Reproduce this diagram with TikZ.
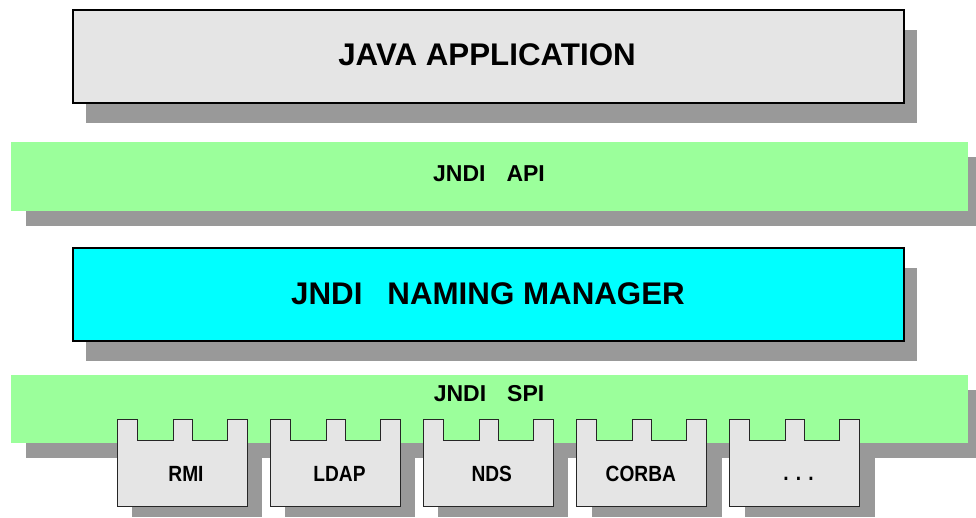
\documentclass[tikz,border=0pt]{standalone}
\usepackage{fontspec}
\setmainfont{Liberation Sans}
\newfontfamily\plugfont[FakeStretch=0.87]{Liberation Sans}
\usetikzlibrary{backgrounds,calc}
\definecolor{boxgray}{HTML}{E5E5E5}
\definecolor{shadowgray}{HTML}{999999}
\definecolor{apigreen}{HTML}{9BFF9B}
\definecolor{mgrcyan}{HTML}{00FFFF}
\tikzset{
  layerbox/.style={draw=black, line width=1.8pt, inner sep=0pt, outer sep=0pt},
  band/.style={fill=apigreen, draw=none, inner sep=0pt, outer sep=0pt},
  shadowfill/.style={fill=shadowgray},
  plugbody/.style={fill=boxgray, draw=black!85, line width=1pt, line join=miter},
  bigtext/.style={font=\fontsize{31.3}{31.3}\selectfont\bfseries, inner sep=0pt},
  midtext/.style={font=\fontsize{23}{23}\selectfont\bfseries, inner sep=0pt},
  plugtext/.style={font=\plugfont\fontsize{22}{22}\selectfont\bfseries, inner sep=0pt},
}
\newcommand{\plugpath}[1]{%
  \draw[plugbody] (#1) -- ++(20,0) -- ++(0,20.7) -- ++(36,0) -- ++(0,-20.7)
    -- ++(19,0) -- ++(0,20.7) -- ++(35,0) -- ++(0,-20.7) -- ++(20,0)
    -- ++(0,87.4) -- ++(-130,0) -- cycle;}
\begin{document}
\begin{tikzpicture}[x=1pt,y=-1pt]
\clip (0,0) rectangle (976,518);

% layers
\node[layerbox, fill=boxgray, minimum width=830.7pt, minimum height=92.7pt] (java) at (488.7,56.3) {};
\node[bigtext] (javalabel) at (487,54.5) {JAVA APPLICATION};

\node[band, minimum width=957pt, minimum height=69pt] (api) at (489.5,176.5) {};
\node[midtext] (apilabel) at (489,174) {JNDI\hspace{21pt}API};

\node[layerbox, fill=mgrcyan, minimum width=830.7pt, minimum height=93.3pt] (mgr) at (488.7,294.3) {};
\node[bigtext] (mgrlabel) at (488,293.3) {JNDI\hspace{25pt}NAMING MANAGER};

\node[band, minimum width=957pt, minimum height=68.3pt] (spi) at (489.5,409.2) {};
\node[midtext] (spilabel) at (489,394) {JNDI\hspace{21pt}SPI};

% service providers
\coordinate (p1) at (117,419.3);
\coordinate (p2) at (270,419.3);
\coordinate (p3) at (423,419.3);
\coordinate (p4) at (576.5,419.3);
\coordinate (p5) at (729.5,419.3);
\plugpath{p1}
\plugpath{p2}
\plugpath{p3}
\plugpath{p4}
\plugpath{p5}
\node[plugtext] (rmi) at ($(p1)+(69,54.4)$) {RMI};
\node[plugtext] (ldap) at ($(p2)+(69.5,54.4)$) {LDAP};
\node[plugtext] (nds) at ($(p3)+(68.7,54.4)$) {NDS};
\node[plugtext] (corba) at ($(p4)+(64.3,54.4)$) {CORBA};
\node[plugtext] (more) at ($(p5)+(69,60)$) {. . .};

% shadows
\begin{scope}[on background layer]
  \fill[white] (0,0) rectangle (976,518);
  \fill[shadowfill] ([shift={(13,20)}]java.north west) rectangle ([shift={(13,20)}]java.south east);
  \fill[shadowfill] ([shift={(15,15)}]api.north west) rectangle ([shift={(15,15)}]api.south east);
  \fill[shadowfill] ([shift={(13,20)}]mgr.north west) rectangle ([shift={(13,20)}]mgr.south east);
  \foreach \p in {p1,p2,p3,p4,p5}
    \fill[shadowfill] ($(\p)+(15,10)$) rectangle ($(\p)+(145,97.4)$);
  \fill[shadowfill] ([shift={(15,15)}]spi.north west) rectangle ([shift={(15,15)}]spi.south east);
\end{scope}
\end{tikzpicture}
\end{document}
